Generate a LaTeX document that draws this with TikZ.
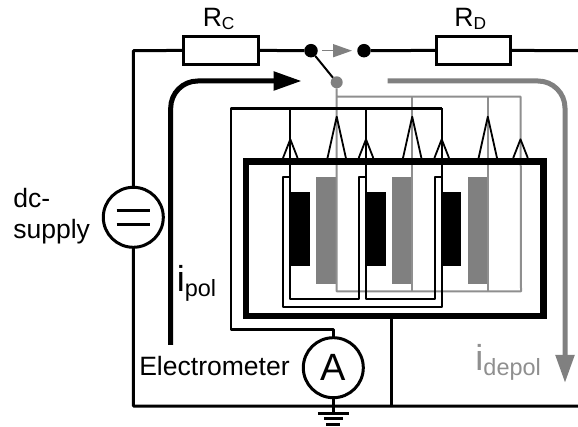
\documentclass[tikz,border=0pt]{standalone}
\usepackage{fontspec}
\setmainfont{Liberation Sans}
\usetikzlibrary{arrows.meta}
\newdimen\px \px=0.75pt
\definecolor{grayline}{gray}{0.5}
\definecolor{graythin}{gray}{0.56}
\newcommand{\txtR}{\fontsize{19.9pt}{22pt}\selectfont}
\newcommand{\txtS}{\fontsize{13pt}{15pt}\selectfont}
\newcommand{\txtI}{\fontsize{27pt}{30pt}\selectfont}
\newcommand{\txtJ}{\fontsize{17.6pt}{20pt}\selectfont}
\tikzset{
  lbl/.style={inner sep=0pt,anchor=base west},
  wire/.style={line width=3\px,line join=round},
  res/.style={draw,line width=3\px,fill=white,minimum width=74.7\px,minimum height=28.7\px,inner sep=0pt,outer sep=0pt},
  meter/.style={circle,draw,line width=3\px,fill=white,minimum size=60\px,inner sep=0pt,outer sep=0pt},
  dotb/.style={circle,fill=black,minimum size=13.5\px,inner sep=0pt,outer sep=0pt},
  dotg/.style={circle,fill=grayline,minimum size=12\px,inner sep=0pt,outer sep=0pt},
  thinb/.style={line width=1.8\px,line join=round},
  thinbb/.style={line width=2.7\px,line join=round},
  thing/.style={draw=graythin,line width=2\px,line join=round},
  current/.style={line width=5\px,rounded corners=27\px},
  frame/.style={draw,line width=6.6\px},
}
\begin{document}
\begin{tikzpicture}[x=0.75pt,y=-0.75pt]
\useasboundingbox (0,0) rectangle (578,427);
% components
\node[res] (rc) at (221.3,50.4) {};
\node[res] (rd) at (473.5,50.4) {};
\node[dotb] (s1) at (311,50.7) {};
\node[dotb] (s2) at (364,50.7) {};
\node[dotg] (s3) at (336.7,82.3) {};
\node[meter] (dc) at (133.3,217.3) {};
\node[meter] (am) at (333.3,367.7) {};
\coordinate (tl) at (133.4,50.7);
\coordinate (tr) at (578,50.7);
\coordinate (bl) at (133.4,406);
\coordinate (br) at (578,406);
\coordinate (gnd) at (333.3,413.3);
\coordinate (bj) at (391.3,406);
\coordinate (fb) at (391.3,316);
\coordinate (gt) at (336.7,96.7);
\coordinate (gr) at (520.6,96.7);
% supply wires
\draw[wire] (rc.west) -- (tl) -- (dc.north);
\draw[wire] (dc.south) -- (bl) -- (br);
\draw[wire] (rc.east) -- (s1);
\draw[wire] (s2) -- (rd.west);
\draw[wire] (rd.east) -- (tr);
\draw[wire] (fb) -- (bj);
\draw[wire] (am.south) -- (gnd);
% switch
\draw[line width=2\px] (s1) -- (s3);
\coordinate (a1) at (322,50.7);
\coordinate (a2) at (352,50.7);
\draw[draw=grayline,line width=1.6\px,-{Triangle[length=14.25pt,width=9.75pt]}] (a1) -- (a2);
% ground
\foreach \y/\w in {413.3/15.5,418.7/9.5,424.3/7}{
  \draw[line width=3\px] (333.3-\w,\y) -- (333.3+\w,\y);
}
% plates of supply
\draw[line width=2.7\px] (116.7,210.3) -- (150,210.3);
\draw[line width=2.7\px] (116.7,224.3) -- (150,224.3);
% electrodes
\foreach \x in {290.3,366,441.7}{
  \fill (\x,192.3) rectangle (\x+19.7,266.3);
}
\foreach \x in {316.3,392,467.5}{
  \fill[grayline] (\x,176.7) rectangle (\x+20.4,284.3);
}
% gray network
\draw[thing] (s3) -- (336.7,291.3) -- (521,291.3) -- (gr) -- (gt);
\draw[thing] (412.2,96.7) -- (412.2,291.3);
\draw[thing] (487.8,96.7) -- (487.8,291.3);
% black network
\draw[thinbb] (441.7,108.3) -- (231,108.3) -- (231,329.3) -- (333.3,329.3) -- (am.north);
\draw[thinb] (290.3,108.3) -- (290.3,299) -- (359,299) -- (359,176.7) -- (366,176.7);
\draw[thinb] (366,108.3) -- (366,299) -- (435,299) -- (435,176.7) -- (441.7,176.7);
\draw[thinb] (290.3,176.7) -- (283.3,176.7) -- (283.3,306.7) -- (441.7,306.7) -- (441.7,108.3);
% spikes
\foreach \x in {290.3,366,441.7,520.5}{
  \draw[thinb] (\x-7.3,158) -- (\x,139.3) -- (\x+7.3,158);
}
\foreach \x in {336.7,412.2,487.8}{
  \draw[thinb] (\x-9.2,158) -- (\x,116.7) -- (\x+9.2,158);
}
% housing
\draw[frame] (246,161.3) rectangle (543.7,316);
% current arrows
\coordinate (p0) at (170.7,345);
\coordinate (p1) at (170.7,81);
\coordinate (p2) at (301.7,81);
\coordinate (q0) at (387.7,81);
\coordinate (q1) at (565,81);
\coordinate (q2) at (565,383);
\draw[current,-{Triangle[length=21pt,width=13.5pt]}] (p0) -- (p1) -- (p2);
\draw[current,draw=grayline,-{Triangle[length=21pt,width=13.5pt]}] (q0) -- (q1) -- (q2);
% labels
\node[lbl] (lrc) at (202.5,26.7) {\txtR R\raisebox{-3\px}{\txtS C}};
\node[lbl] (lrd) at (454.2,26.7) {\txtR R\raisebox{-3\px}{\txtS D}};
\node[lbl] (ldc) at (13,207.3) {\txtR dc-};
\node[lbl] (lsu) at (13,238.3) {\txtR supply};
\node[lbl] (lel) at (139,375) {\txtR Electrometer};
\node[lbl] (lip) at (176.5,291.7) {\txtI i\raisebox{-5\px}{\txtJ pol}};
\node[lbl,text=graythin] (lid) at (475.2,370.7) {\txtI i\raisebox{-5\px}{\txtJ depol}};
\node[inner sep=0pt] (la) at (am.center) {\fontsize{28.5pt}{30pt}\selectfont A};
\end{tikzpicture}
\end{document}
